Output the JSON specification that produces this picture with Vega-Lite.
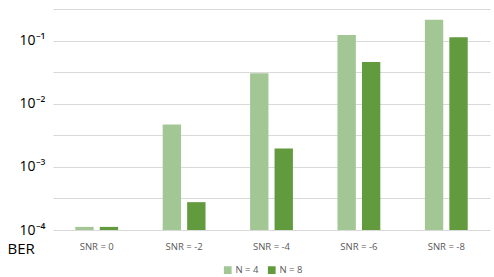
{
  "$schema": "https://vega.github.io/schema/vega-lite/v6.json",
  "width": 437,
  "height": 221,
  "autosize": "none",
  "padding": {"left": 53, "top": 9, "right": 4, "bottom": 47},
  "background": "white",
  "data": {
    "values": [
      {"snr": "SNR = 0", "n": "N = 4", "ber": 0.000112},
      {"snr": "SNR = 0", "n": "N = 8", "ber": 0.000112},
      {"snr": "SNR = -2", "n": "N = 4", "ber": 0.0047},
      {"snr": "SNR = -2", "n": "N = 8", "ber": 0.000276},
      {"snr": "SNR = -4", "n": "N = 4", "ber": 0.0305},
      {"snr": "SNR = -4", "n": "N = 8", "ber": 0.00195},
      {"snr": "SNR = -6", "n": "N = 4", "ber": 0.123},
      {"snr": "SNR = -6", "n": "N = 8", "ber": 0.0456},
      {"snr": "SNR = -8", "n": "N = 4", "ber": 0.213},
      {"snr": "SNR = -8", "n": "N = 8", "ber": 0.113}
    ]
  },
  "mark": {"type": "bar"},
  "encoding": {
    "x": {
      "field": "snr",
      "type": "nominal",
      "sort": null,
      "scale": {"paddingInner": 0.51, "paddingOuter": 0.255},
      "axis": {
        "title": null,
        "labelAngle": 0,
        "labelFont": "Open Sans",
        "labelFontSize": 9.5,
        "labelColor": "#595959",
        "labelPadding": 11,
        "ticks": false,
        "domain": false
      }
    },
    "xOffset": {
      "field": "n",
      "type": "nominal",
      "scale": {"paddingInner": 0.25, "paddingOuter": 0}
    },
    "y": {
      "field": "ber",
      "type": "quantitative",
      "stack": null,
      "scale": {"type": "log", "domain": [0.0001, 0.31623], "nice": false},
      "axis": {
        "title": "BER",
        "titleAngle": 0,
        "titleX": -46,
        "titleY": 239,
        "titleAlign": "left",
        "titleBaseline": "middle",
        "titleFont": "Open Sans",
        "titleFontSize": 15,
        "titleFontWeight": "normal",
        "titleColor": "#000000",
        "values": [0.0001, 0.00031623, 0.001, 0.0031623, 0.01, 0.031623, 0.1, 0.31623],
        "labelExpr": "abs(log(datum.value)/LN10 - round(log(datum.value)/LN10)) < 0.01 ? ['10⁻⁴','10⁻³','10⁻²','10⁻¹'][round(log(datum.value)/LN10)+4] : ''",
        "labelFont": "Open Sans",
        "labelFontSize": 14,
        "labelColor": "#000000",
        "labelPadding": 8,
        "ticks": false,
        "domain": false,
        "grid": true,
        "gridColor": "#d9d9d9",
        "gridWidth": 1
      }
    },
    "color": {
      "field": "n",
      "type": "nominal",
      "scale": {"domain": ["N = 4", "N = 8"], "range": ["#A3C794", "#629A3E"]},
      "legend": {
        "title": null,
        "orient": "none",
        "legendX": 170,
        "legendY": 256,
        "direction": "horizontal",
        "symbolType": "square",
        "symbolSize": 60,
        "symbolStrokeWidth": 0,
        "labelFont": "Open Sans",
        "labelFontSize": 9.5,
        "labelColor": "#595959",
        "columnPadding": 8,
        "labelOffset": 3
      }
    }
  },
  "config": {"view": {"stroke": null}}
}
